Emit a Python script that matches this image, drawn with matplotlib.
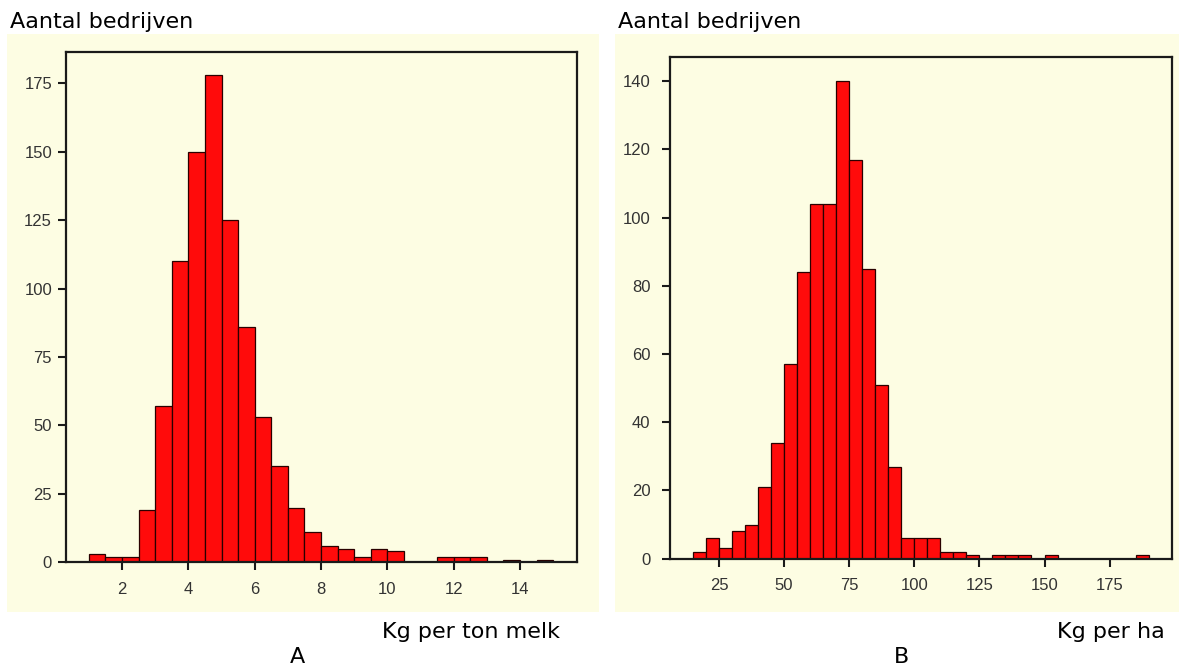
import matplotlib.pyplot as plt
from matplotlib.patches import Rectangle
import numpy as np

# histogram A: kg per ton melk, bins of 0.5 from 1.0
bins_a = np.arange(1.0, 15.0, 0.5)
counts_a = [3, 2, 2, 19, 57, 110, 150, 178, 125, 86, 53, 35, 20, 11,
            6, 5, 2, 5, 4, 0, 0, 2, 2, 2, 0, 1, 0, 1]
ticks_a = [2, 4, 6, 8, 10, 12, 14]
yticks_a = [0, 25, 50, 75, 100, 125, 150, 175]

# histogram B: kg per ha, bins of 5 from 15
bins_b = np.arange(15, 190, 5)
counts_b = [2, 6, 3, 8, 10, 21, 34, 57, 84, 104, 104, 140, 117, 85, 51, 27,
            6, 6, 6, 2, 2, 1, 0, 1, 1, 1, 0, 1, 0, 0, 0, 0, 0, 0, 1]
ticks_b = [25, 50, 75, 100, 125, 150, 175]
yticks_b = [0, 20, 40, 60, 80, 100, 120, 140]

W, H = 1179, 668
BG = '#fdfde3'
RED = '#ff0b0b'
EDGE = '#2a0000'

fig = plt.figure(figsize=(W / 100, H / 100), dpi=100)


def px(x, y):
    return x / W, 1 - y / H


# pale yellow panels behind the axes
for x0, x1 in [(7, 599), (615, 1179)]:
    fig.patches.append(Rectangle((x0 / W, 1 - 612 / H), (x1 - x0) / W, (612 - 34) / H,
                                 transform=fig.transFigure, facecolor=BG,
                                 edgecolor='none', zorder=-5))


def panel(rect, bins, counts, width, xlim, ylim, xt, yt, ypad):
    ax = fig.add_axes(rect)
    ax.set_zorder(2)
    ax.set_facecolor(BG)
    ax.bar(bins, counts, width=width, align='edge', color=RED,
           edgecolor=EDGE, linewidth=0.9)
    ax.set_xlim(*xlim)
    ax.set_ylim(*ylim)
    ax.set_xticks(xt)
    ax.set_yticks(yt)
    for s in ax.spines.values():
        s.set_linewidth(1.6)
        s.set_color('#1a1a1a')
    ax.tick_params(axis='both', direction='out', length=6, width=1.5,
                   color='#1a1a1a', labelcolor='#333333', labelsize=12)
    ax.tick_params(axis='x', pad=8)
    ax.tick_params(axis='y', pad=ypad)
    for lab in ax.get_xticklabels() + ax.get_yticklabels():
        lab.set_family('Liberation Sans')
    return ax


# left panel
l, r = 66 / W, 576.7 / W
b, t = 1 - 562.3 / H, 1 - 52 / H
panel([l, b, r - l, t - b], bins_a, counts_a, 0.5, (0.31, 15.71), (0, 186.4),
      ticks_a, yticks_a, 4)

# right panel
l, r = 669.7 / W, 1171.6 / W
b, t = 1 - 558.7 / H, 1 - 57.3 / H
panel([l, b, r - l, t - b], bins_b, counts_b, 5, (6.07, 198.8), (0, 147.0),
      ticks_b, yticks_b, 8)

fs = 16
fig.text(*px(10, 22), 'Aantal bedrijven', fontsize=fs, va='center', ha='left')
fig.text(*px(618, 22), 'Aantal bedrijven', fontsize=fs, va='center', ha='left')
fig.text(*px(560, 632), 'Kg per ton melk', fontsize=fs, va='center', ha='right')
fig.text(*px(1165, 632), 'Kg per ha', fontsize=fs, va='center', ha='right')
fig.text(*px(297, 657), 'A', fontsize=fs, va='center', ha='center')
fig.text(*px(902, 657), 'B', fontsize=fs, va='center', ha='center')

fig.savefig('out.png', dpi=100)
